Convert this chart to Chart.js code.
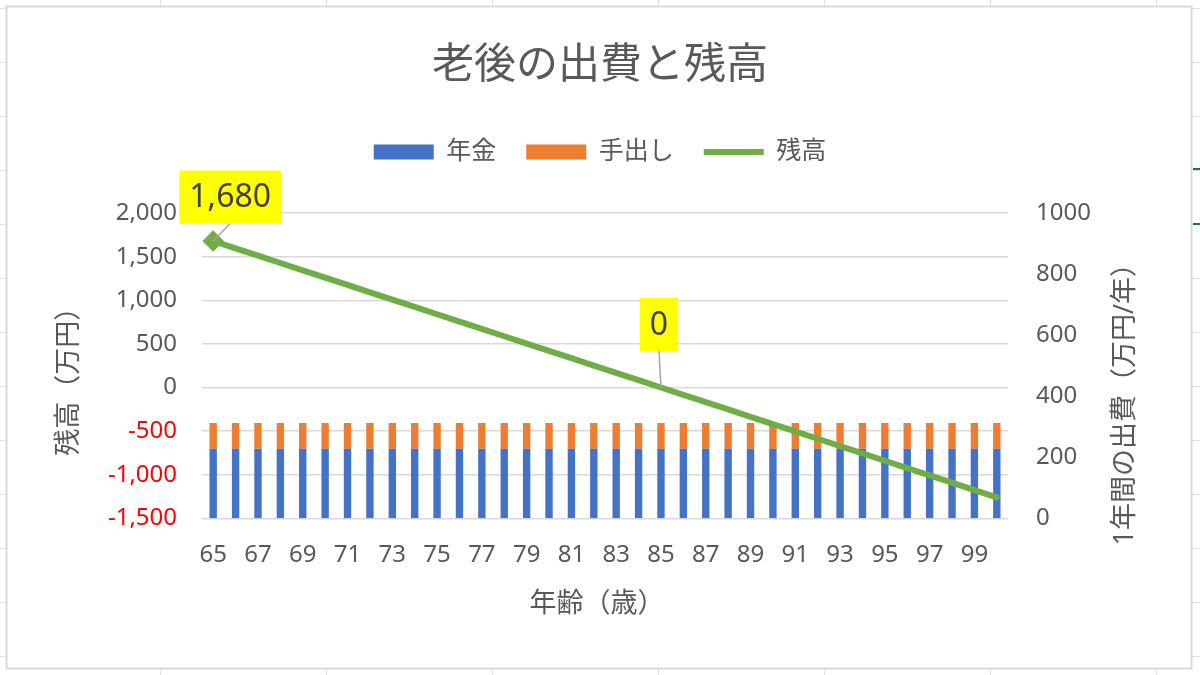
<!DOCTYPE html>
<html lang="ja">
<head>
<meta charset="utf-8">
<title>老後の出費と残高</title>
<script src="https://cdn.jsdelivr.net/npm/chart.js@4.4.1/dist/chart.umd.min.js"></script>
<style>
  html, body { margin: 0; padding: 0; background: #fff; }
  #wrap { width: 1200px; height: 675px; }
</style>
</head>
<body>
<div id="wrap"><canvas id="chart" width="1200" height="675"></canvas></div>
<script>
// ages on the x axis
var ages = [65, 66, 67, 68, 69, 70, 71, 72, 73, 74, 75, 76, 77, 78, 79, 80, 81, 82,
            83, 84, 85, 86, 87, 88, 89, 90, 91, 92, 93, 94, 95, 96, 97, 98, 99, 100];

// yearly spending (万円/年), stacked bars on the right axis
var pension = [228, 228, 228, 228, 228, 228, 228, 228, 228, 228, 228, 228,
               228, 228, 228, 228, 228, 228, 228, 228, 228, 228, 228, 228,
               228, 228, 228, 228, 228, 228, 228, 228, 228, 228, 228, 228];
var outOfPocket = [84, 84, 84, 84, 84, 84, 84, 84, 84, 84, 84, 84,
                   84, 84, 84, 84, 84, 84, 84, 84, 84, 84, 84, 84,
                   84, 84, 84, 84, 84, 84, 84, 84, 84, 84, 84, 84];

// remaining savings (万円), line on the left axis
var balance = [1680, 1596, 1512, 1428, 1344, 1260, 1176, 1092, 1008, 924, 840, 756,
               672, 588, 504, 420, 336, 252, 168, 84, 0, -84, -168, -252,
               -336, -420, -504, -588, -672, -756, -840, -924, -1008, -1092, -1176, -1260];

// axis tick values
var leftTicks = [-1500, -1000, -500, 0, 500, 1000, 1500, 2000];
var rightTicks = [0, 200, 400, 600, 800, 1000];

// points of the balance line that get a yellow callout
var calloutIndex = [0, 20];

var FONT = '"Noto Sans", "Noto Sans CJK JP", sans-serif';
var GREY = '#595959';

// where the callouts sit relative to their point (px)
var calloutOffset = [{ dx: 17, dy: -44 }, { dx: -2, dy: -63 }];

// excel sheet behind the chart + chart frame
var sheetPlugin = {
  id: 'sheet',
  beforeDraw: function (chart) {
    var ctx = chart.ctx, w = chart.width, h = chart.height;
    ctx.save();
    ctx.fillStyle = '#fff';
    ctx.fillRect(0, 0, w, h);
    ctx.strokeStyle = '#e1e1e1';
    ctx.lineWidth = 1;
    ctx.beginPath();
    for (var y = 8; y < h; y += 54) { ctx.moveTo(0, y + 0.5); ctx.lineTo(w, y + 0.5); }
    for (var x = 160; x < w; x += 166) { ctx.moveTo(x + 0.5, 0); ctx.lineTo(x + 0.5, h); }
    ctx.stroke();
    ctx.fillStyle = '#fff';
    ctx.fillRect(6, 6, 1186, 663);
    ctx.strokeStyle = '#d9d9d9';
    ctx.lineWidth = 2;
    ctx.strokeRect(6.5, 6.5, 1185, 662);
    // selected cell edge peeking out on the right
    ctx.strokeStyle = '#217346';
    ctx.beginPath();
    ctx.moveTo(1193, 169); ctx.lineTo(w, 169);
    ctx.moveTo(1193, 224); ctx.lineTo(w, 224);
    ctx.stroke();
    ctx.restore();
  }
};

// legend needs more room below it than chart.js gives
var legendSpace = {
  id: 'legendSpace',
  beforeLayout: function (chart) {
    var lg = chart.legend;
    if (lg && !lg._spaced) {
      var fit = lg.fit;
      lg.fit = function () { fit.call(this); this.height += 38.7; };
      lg._spaced = true;
    }
  }
};

// axis titles (the right one reads bottom to top like the left one)
var axisTitles = {
  id: 'axisTitles',
  afterDraw: function (chart) {
    var ctx = chart.ctx, a = chart.chartArea;
    ctx.save();
    ctx.font = '27px ' + FONT;
    ctx.fillStyle = GREY;
    ctx.textAlign = 'center';
    ctx.textBaseline = 'middle';
    ctx.fillText('年齢（歳）', (a.left + a.right) / 2 - 8, a.bottom + 86);
    ctx.translate(a.left - 133, (a.top + a.bottom) / 2 + 9);
    ctx.rotate(-Math.PI / 2);
    ctx.fillText('残高（万円）', 0, 0);
    ctx.restore();
    ctx.save();
    ctx.font = '27px ' + FONT;
    ctx.fillStyle = GREY;
    ctx.textAlign = 'center';
    ctx.textBaseline = 'middle';
    ctx.translate(a.right + 117, (a.top + a.bottom) / 2 + 32);
    ctx.rotate(-Math.PI / 2);
    ctx.fillText('1年間の出費（万円/年）', 0, 0);
    ctx.restore();
  }
};

// yellow data labels with leader lines
var callouts = {
  id: 'callouts',
  afterDatasetsDraw: function (chart) {
    var ctx = chart.ctx;
    var meta = chart.getDatasetMeta(2);
    ctx.save();
    ctx.font = '32px ' + FONT;
    calloutIndex.forEach(function (idx, k) {
      var pt = meta.data[idx];
      var off = calloutOffset[k];
      var text = balance[idx].toLocaleString('en-US');
      var bw = ctx.measureText(text).width + 20, bh = 53;
      var cx = pt.x + off.dx, cy = pt.y + off.dy;
      ctx.strokeStyle = '#a6a6a6';
      ctx.lineWidth = 1.5;
      ctx.beginPath();
      ctx.moveTo(pt.x, pt.y);
      ctx.lineTo(cx, cy + bh / 2);
      ctx.stroke();
      ctx.fillStyle = '#ffff00';
      ctx.fillRect(cx - bw / 2, cy - bh / 2, bw, bh);
      ctx.fillStyle = '#404040';
      ctx.textAlign = 'center';
      ctx.textBaseline = 'middle';
      ctx.fillText(text, cx, cy + 1);
    });
    ctx.restore();
  }
};

new Chart(document.getElementById('chart'), {
  data: {
    labels: ages,
    datasets: [
      {
        type: 'bar', label: '年金', data: pension, yAxisID: 'y1',
        backgroundColor: '#4472c4', borderWidth: 0, order: 1,
        categoryPercentage: 1, barPercentage: 0.33
      },
      {
        type: 'bar', label: '手出し', data: outOfPocket, yAxisID: 'y1',
        backgroundColor: '#ed7d31', borderWidth: 0, order: 1,
        categoryPercentage: 1, barPercentage: 0.33
      },
      {
        type: 'line', label: '残高', data: balance, yAxisID: 'y',
        borderColor: '#70ad47', backgroundColor: '#70ad47', borderWidth: 6,
        borderCapStyle: 'round', tension: 0, order: 0,
        pointStyle: 'rectRot',
        pointRadius: function (c) { return c.dataIndex === 0 ? 6.5 : 0; },
        pointBackgroundColor: '#70ad47', pointBorderColor: '#70ad47', pointHitRadius: 0
      }
    ]
  },
  options: {
    responsive: false,
    animation: false,
    events: [],
    layout: { padding: 0 },
    plugins: {
      title: {
        display: true, text: '老後の出費と残高', color: GREY,
        font: { family: FONT, size: 42, weight: 'normal' },
        padding: { top: 41, bottom: 18 }
      },
      legend: {
        position: 'top',
        labels: {
          color: GREY, font: { family: FONT, size: 25 },
          usePointStyle: true, pointStyleWidth: 60, boxHeight: 15, padding: 30,
          sort: function (a, b) { return a.datasetIndex - b.datasetIndex; },
          generateLabels: function (chart) {
            var items = Chart.defaults.plugins.legend.labels.generateLabels(chart);
            items.forEach(function (it) {
              it.pointStyle = chart.data.datasets[it.datasetIndex].type === 'line' ? 'line' : 'rect';
            });
            return items;
          }
        }
      },
      tooltip: { enabled: false }
    },
    scales: {
      x: {
        stacked: true, offset: true,
        grid: { display: false, drawTicks: false },
        border: { display: false },
        ticks: {
          autoSkip: false, maxRotation: 0, padding: 22, color: GREY,
          font: { family: FONT, size: 24 },
          callback: function (v, i) { return i % 2 === 0 ? String(ages[i]) : ''; }
        },
        afterFit: function (s) { s.height = 156.7; }
      },
      y: {
        position: 'left',
        min: leftTicks[0], max: leftTicks[leftTicks.length - 1],
        grid: { color: '#d9d9d9', lineWidth: 1.5, drawTicks: false },
        border: { display: false },
        ticks: {
          stepSize: leftTicks[1] - leftTicks[0], padding: 25,
          font: { family: FONT, size: 24 },
          color: function (c) { return c.tick && c.tick.value < 0 ? '#ff0000' : GREY; },
          callback: function (v) { return v.toLocaleString('en-US'); }
        },
        afterFit: function (s) { s.width = 202; }
      },
      y1: {
        position: 'right', stacked: true,
        min: rightTicks[0], max: rightTicks[rightTicks.length - 1],
        grid: { display: false, drawTicks: false },
        border: { display: false },
        ticks: {
          stepSize: rightTicks[1] - rightTicks[0], padding: 28, color: GREY,
          font: { family: FONT, size: 24 },
          callback: function (v) { return String(v); }
        },
        afterFit: function (s) { s.width = 192; }
      }
    }
  },
  plugins: [sheetPlugin, legendSpace, callouts, axisTitles]
});
</script>
</body>
</html>
